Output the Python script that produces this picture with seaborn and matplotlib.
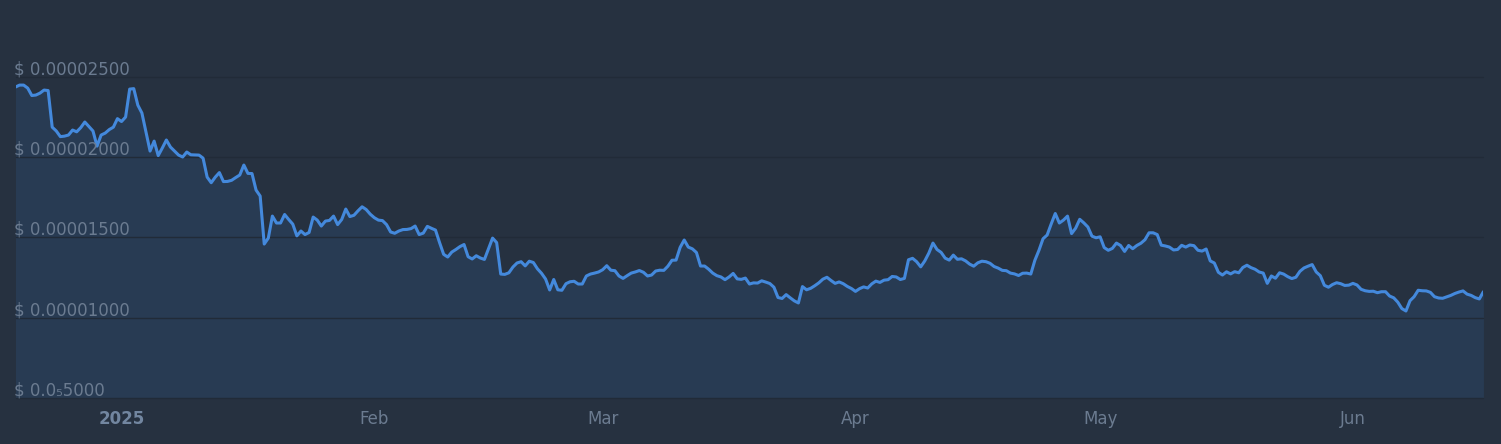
import numpy as np
import pandas as pd
import seaborn as sns
import matplotlib
matplotlib.use("Agg")
import matplotlib.pyplot as plt

# price in units of 1e-5 USD, one value every 12 hours
price_e5 = [
    2.437, 2.449, 2.449, 2.430, 2.384, 2.387, 2.399, 2.418, 2.415, 2.187,
    2.163, 2.128, 2.131, 2.138, 2.169, 2.158, 2.184, 2.219, 2.191, 2.163,
    2.069, 2.138, 2.150, 2.172, 2.187, 2.240, 2.222, 2.250, 2.424, 2.427,
    2.324, 2.275, 2.158, 2.038, 2.100, 2.010, 2.057, 2.107, 2.063, 2.038,
    2.013, 2.001, 2.032, 2.015, 2.014, 2.013, 1.994, 1.876, 1.841, 1.876,
    1.904, 1.848, 1.849, 1.856, 1.873, 1.889, 1.951, 1.899, 1.898, 1.795,
    1.758, 1.459, 1.496, 1.633, 1.590, 1.590, 1.643, 1.612, 1.583, 1.510,
    1.540, 1.518, 1.531, 1.627, 1.608, 1.571, 1.602, 1.606, 1.633, 1.580,
    1.612, 1.677, 1.630, 1.638, 1.666, 1.691, 1.674, 1.645, 1.623, 1.608,
    1.605, 1.580, 1.534, 1.526, 1.540, 1.549, 1.550, 1.555, 1.571, 1.518,
    1.527, 1.569, 1.557, 1.546, 1.468, 1.395, 1.378, 1.409, 1.425, 1.443,
    1.456, 1.380, 1.366, 1.386, 1.372, 1.363, 1.429, 1.496, 1.468, 1.272,
    1.270, 1.280, 1.316, 1.341, 1.349, 1.323, 1.352, 1.344, 1.305, 1.277,
    1.241, 1.173, 1.238, 1.174, 1.171, 1.212, 1.224, 1.227, 1.210, 1.210,
    1.260, 1.272, 1.278, 1.285, 1.299, 1.324, 1.296, 1.293, 1.260, 1.245,
    1.262, 1.278, 1.285, 1.294, 1.283, 1.260, 1.266, 1.291, 1.296, 1.295,
    1.321, 1.358, 1.359, 1.438, 1.484, 1.440, 1.429, 1.406, 1.322, 1.322,
    1.302, 1.278, 1.262, 1.254, 1.237, 1.254, 1.276, 1.242, 1.239, 1.247,
    1.210, 1.217, 1.216, 1.230, 1.222, 1.213, 1.190, 1.126, 1.120, 1.144,
    1.124, 1.105, 1.092, 1.194, 1.174, 1.183, 1.199, 1.217, 1.240, 1.252,
    1.232, 1.214, 1.223, 1.212, 1.195, 1.182, 1.164, 1.181, 1.192, 1.185,
    1.211, 1.228, 1.220, 1.234, 1.237, 1.257, 1.254, 1.238, 1.245, 1.361,
    1.370, 1.349, 1.317, 1.354, 1.403, 1.465, 1.425, 1.407, 1.371, 1.359,
    1.390, 1.364, 1.367, 1.354, 1.334, 1.321, 1.342, 1.352, 1.349, 1.339,
    1.319, 1.309, 1.295, 1.293, 1.278, 1.273, 1.263, 1.277, 1.278, 1.272,
    1.358, 1.420, 1.492, 1.515, 1.584, 1.649, 1.590, 1.608, 1.633, 1.524,
    1.558, 1.613, 1.591, 1.565, 1.508, 1.498, 1.504, 1.437, 1.420, 1.432,
    1.465, 1.450, 1.413, 1.450, 1.430, 1.450, 1.464, 1.486, 1.529, 1.529,
    1.518, 1.452, 1.447, 1.440, 1.422, 1.425, 1.451, 1.440, 1.453, 1.449,
    1.420, 1.415, 1.428, 1.354, 1.341, 1.283, 1.266, 1.286, 1.273, 1.287,
    1.280, 1.313, 1.327, 1.312, 1.302, 1.285, 1.278, 1.214, 1.260, 1.246,
    1.280, 1.272, 1.256, 1.244, 1.252, 1.289, 1.310, 1.321, 1.331, 1.285,
    1.262, 1.202, 1.190, 1.207, 1.218, 1.212, 1.201, 1.203, 1.214, 1.204,
    1.177, 1.168, 1.164, 1.165, 1.156, 1.162, 1.162, 1.135, 1.124, 1.097,
    1.057, 1.042, 1.106, 1.131, 1.171, 1.168, 1.167, 1.158, 1.131, 1.123,
    1.121, 1.130, 1.139, 1.151, 1.160, 1.167, 1.147, 1.139, 1.125, 1.117,
    1.162,
]
start_date = "2024-12-19"

month_ticks = ["2025-01-01", "2025-02-01", "2025-03-01", "2025-04-01",
               "2025-05-01", "2025-06-01"]
month_labels = ["2025", "Feb", "Mar", "Apr", "May", "Jun"]

ytick_vals = [0.5e-5, 1.0e-5, 1.5e-5, 2.0e-5, 2.5e-5]
ytick_labels = ["$ 0.0\u20855000", "$ 0.00001000", "$ 0.00001500",
                "$ 0.00002000", "$ 0.00002500"]

bg = "#263140"
fill_col = "#283b53"
line_col = "#4489dc"
grid_col = "#212b38"
text_col = "#6b7b90"

dates = pd.date_range(start_date, periods=len(price_e5), freq="12h")
df = pd.DataFrame({"date": dates, "price": np.array(price_e5) * 1e-5})

sns.set_theme(style="dark", rc={"axes.facecolor": bg, "figure.facecolor": bg})
plt.rcParams["font.family"] = ["DejaVu Sans"]

fig = plt.figure(figsize=(15.01, 4.44), dpi=100)
ax = fig.add_axes([0.01033, 0.1036, 0.97795, 0.8964])

ax.fill_between(df["date"], df["price"], ytick_vals[0], color=fill_col, lw=0, zorder=1)
sns.lineplot(data=df, x="date", y="price", ax=ax, color=line_col, lw=2.2, zorder=3)

ax.set_xlim(dates[0], dates[-1])
ax.set_ylim(ytick_vals[0], 2.979e-5)

# horizontal grid lines and inside labels
for v, lab in zip(ytick_vals, ytick_labels):
    ax.axhline(v, color=grid_col, lw=1.0, zorder=2, clip_on=False)
    ax.annotate(lab, xy=(0, v), xycoords=("axes fraction", "data"),
                xytext=(-1.5, 2.5), textcoords="offset pixels",
                ha="left", va="baseline", fontsize=12, color=text_col, zorder=4)

ax.set_yticks([])
ax.set_xticks(pd.to_datetime(month_ticks))
ax.set_xticklabels(month_labels)
ax.tick_params(axis="x", length=0, pad=8.5, labelsize=12, labelcolor=text_col)
ax.get_xticklabels()[0].set_fontweight("bold")
ax.get_xticklabels()[0].set_color("#7286a0")
ax.set_xlabel("")
ax.set_ylabel("")
ax.grid(False)
for s in ax.spines.values():
    s.set_visible(False)

fig.savefig("out.png", dpi=100, facecolor=bg)
